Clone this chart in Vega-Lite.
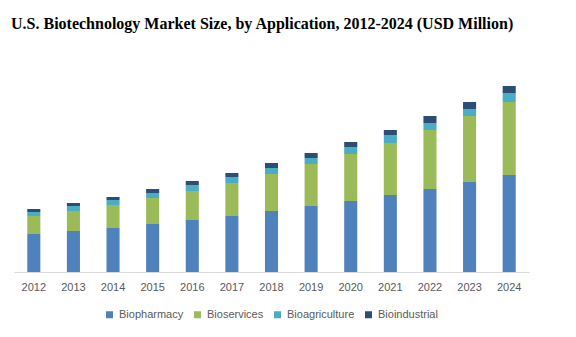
{
  "$schema": "https://vega.github.io/schema/vega-lite/v6.json",
  "autosize": "none",
  "width": 515,
  "height": 222,
  "padding": {"left": 14, "top": 50, "right": 47, "bottom": 65},
  "background": "white",
  "title": {
    "text": "U.S. Biotechnology Market Size, by Application, 2012-2024 (USD Million)",
    "anchor": "start",
    "frame": "group",
    "dx": -3,
    "offset": 18,
    "font": "Liberation Serif",
    "fontSize": 16,
    "fontWeight": "bold",
    "color": "#000000"
  },
  "data": {
    "values": [
      {"year": "2012", "app": "Biopharmacy", "seq": 1, "value": 38},
      {"year": "2012", "app": "Bioservices", "seq": 2, "value": 18},
      {"year": "2012", "app": "Bioagriculture", "seq": 3, "value": 4},
      {"year": "2012", "app": "Bioindustrial", "seq": 4, "value": 3},
      {"year": "2013", "app": "Biopharmacy", "seq": 1, "value": 41},
      {"year": "2013", "app": "Bioservices", "seq": 2, "value": 20},
      {"year": "2013", "app": "Bioagriculture", "seq": 3, "value": 5},
      {"year": "2013", "app": "Bioindustrial", "seq": 4, "value": 3},
      {"year": "2014", "app": "Biopharmacy", "seq": 1, "value": 44},
      {"year": "2014", "app": "Bioservices", "seq": 2, "value": 23},
      {"year": "2014", "app": "Bioagriculture", "seq": 3, "value": 5},
      {"year": "2014", "app": "Bioindustrial", "seq": 4, "value": 3},
      {"year": "2015", "app": "Biopharmacy", "seq": 1, "value": 48},
      {"year": "2015", "app": "Bioservices", "seq": 2, "value": 26},
      {"year": "2015", "app": "Bioagriculture", "seq": 3, "value": 5},
      {"year": "2015", "app": "Bioindustrial", "seq": 4, "value": 4},
      {"year": "2016", "app": "Biopharmacy", "seq": 1, "value": 52},
      {"year": "2016", "app": "Bioservices", "seq": 2, "value": 29},
      {"year": "2016", "app": "Bioagriculture", "seq": 3, "value": 6},
      {"year": "2016", "app": "Bioindustrial", "seq": 4, "value": 4},
      {"year": "2017", "app": "Biopharmacy", "seq": 1, "value": 56},
      {"year": "2017", "app": "Bioservices", "seq": 2, "value": 33},
      {"year": "2017", "app": "Bioagriculture", "seq": 3, "value": 6},
      {"year": "2017", "app": "Bioindustrial", "seq": 4, "value": 4},
      {"year": "2018", "app": "Biopharmacy", "seq": 1, "value": 61},
      {"year": "2018", "app": "Bioservices", "seq": 2, "value": 37},
      {"year": "2018", "app": "Bioagriculture", "seq": 3, "value": 6},
      {"year": "2018", "app": "Bioindustrial", "seq": 4, "value": 5},
      {"year": "2019", "app": "Biopharmacy", "seq": 1, "value": 66},
      {"year": "2019", "app": "Bioservices", "seq": 2, "value": 42},
      {"year": "2019", "app": "Bioagriculture", "seq": 3, "value": 6},
      {"year": "2019", "app": "Bioindustrial", "seq": 4, "value": 5},
      {"year": "2020", "app": "Biopharmacy", "seq": 1, "value": 71},
      {"year": "2020", "app": "Bioservices", "seq": 2, "value": 47},
      {"year": "2020", "app": "Bioagriculture", "seq": 3, "value": 7},
      {"year": "2020", "app": "Bioindustrial", "seq": 4, "value": 5},
      {"year": "2021", "app": "Biopharmacy", "seq": 1, "value": 77},
      {"year": "2021", "app": "Bioservices", "seq": 2, "value": 52},
      {"year": "2021", "app": "Bioagriculture", "seq": 3, "value": 8},
      {"year": "2021", "app": "Bioindustrial", "seq": 4, "value": 5},
      {"year": "2022", "app": "Biopharmacy", "seq": 1, "value": 83},
      {"year": "2022", "app": "Bioservices", "seq": 2, "value": 59},
      {"year": "2022", "app": "Bioagriculture", "seq": 3, "value": 7},
      {"year": "2022", "app": "Bioindustrial", "seq": 4, "value": 7},
      {"year": "2023", "app": "Biopharmacy", "seq": 1, "value": 90},
      {"year": "2023", "app": "Bioservices", "seq": 2, "value": 66},
      {"year": "2023", "app": "Bioagriculture", "seq": 3, "value": 7},
      {"year": "2023", "app": "Bioindustrial", "seq": 4, "value": 7},
      {"year": "2024", "app": "Biopharmacy", "seq": 1, "value": 97},
      {"year": "2024", "app": "Bioservices", "seq": 2, "value": 73},
      {"year": "2024", "app": "Bioagriculture", "seq": 3, "value": 9},
      {"year": "2024", "app": "Bioindustrial", "seq": 4, "value": 7}
    ]
  },
  "mark": {"type": "bar"},
  "encoding": {
    "x": {
      "field": "year",
      "type": "ordinal",
      "scale": {"paddingInner": 0.67, "paddingOuter": 0.335},
      "axis": {
        "title": null,
        "labelAngle": 0,
        "ticks": false,
        "domainColor": "#D9D9D9",
        "domainWidth": 1,
        "labelPadding": 9,
        "labelFont": "Liberation Sans",
        "labelFontSize": 11,
        "labelColor": "#595959"
      }
    },
    "y": {
      "field": "value",
      "type": "quantitative",
      "stack": "zero",
      "scale": {"domain": [0, 222], "nice": false},
      "axis": null
    },
    "color": {
      "field": "app",
      "type": "nominal",
      "scale": {
        "domain": ["Biopharmacy", "Bioservices", "Bioagriculture", "Bioindustrial"],
        "range": ["#4F81BD", "#9BBB59", "#4BACC6", "#2C4D75"]
      },
      "legend": {
        "title": null,
        "orient": "none",
        "direction": "horizontal",
        "legendX": 90,
        "legendY": 259,
        "padding": 0,
        "symbolType": "square",
        "symbolSize": 49,
        "symbolStrokeWidth": 0,
        "labelFont": "Liberation Sans",
        "labelFontSize": 11,
        "labelColor": "#595959",
        "labelOffset": 4,
        "columnPadding": 8
      }
    },
    "order": {"field": "seq", "type": "quantitative", "sort": "ascending"}
  },
  "config": {"view": {"stroke": null}}
}
